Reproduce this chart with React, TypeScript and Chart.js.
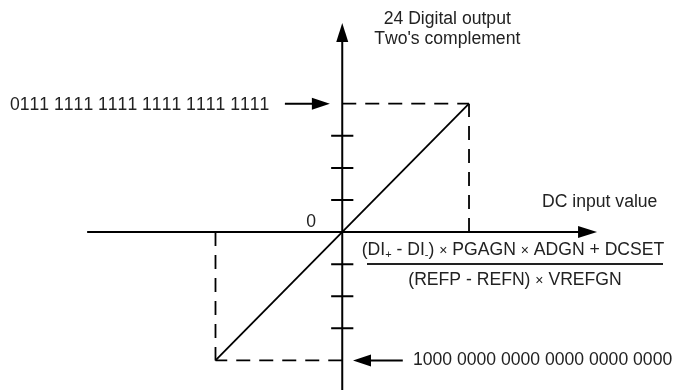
import React, { useEffect, useRef } from "react";
import { Chart, registerables } from "chart.js";

Chart.register(...registerables);

// Transfer function endpoints (input value units, output code units)
const inputValues = [-4, 4];
const outputCodes = [-4, 4];
// Tick marks along the output axis
const outputTicks = [-3, -2, -1, 1, 2, 3];
// Text labels
const topCode = "0111 1111 1111 1111 1111 1111";
const bottomCode = "1000 0000 0000 0000 0000 0000";
const yTitle = ["24 Digital output", "Two's complement"];
const xTitle = "DC input value";
const originLabel = "0";

const FONT = '"Liberation Sans", Arial, sans-serif';
const TEXT = "#222222";
const LINE = "#000000";

type Seg = [string, "n" | "s" | "x"];
const numeratorSegs: Seg[] = [
  ["(DI", "n"],
  ["+", "s"],
  [" - DI", "n"],
  ["-", "s"],
  [") ", "n"],
  ["\u00d7", "x"],
  [" PGAGN ", "n"],
  ["\u00d7", "x"],
  [" ADGN + DCSET", "n"],
];
const denominatorSegs: Seg[] = [
  ["(REFP - REFN) ", "n"],
  ["\u00d7", "x"],
  [" VREFGN", "n"],
];

const diagramPlugin = {
  id: "diagram",
  afterDatasetsDraw(chart: any) {
    const ctx = chart.ctx as CanvasRenderingContext2D;
    const xs = chart.scales.x;
    const ys = chart.scales.y;
    const px = (v: number) => xs.getPixelForValue(v);
    const py = (v: number) => ys.getPixelForValue(v);
    const ox = px(0);
    const oy = py(0);

    ctx.save();
    ctx.strokeStyle = LINE;
    ctx.fillStyle = LINE;
    ctx.lineCap = "butt";

    // axes
    ctx.lineWidth = 2;
    ctx.beginPath();
    ctx.moveTo(ox, ys.bottom + 2);
    ctx.lineTo(ox, py(6.0));
    ctx.moveTo(px(-8.05), oy);
    ctx.lineTo(px(7.5), oy);
    ctx.stroke();

    const head = (tx: number, ty: number, dx: number, dy: number, len: number, hw: number) => {
      const bx = tx - dx * len;
      const by = ty - dy * len;
      ctx.beginPath();
      ctx.moveTo(tx, ty);
      ctx.lineTo(bx - dy * hw, by + dx * hw);
      ctx.lineTo(bx + dy * hw, by - dx * hw);
      ctx.closePath();
      ctx.fill();
    };
    head(ox, py(6.51), 0, -1, 19, 6);
    head(px(8.04), oy, 1, 0, 19, 6);

    // ticks
    ctx.lineWidth = 2;
    ctx.beginPath();
    outputTicks.forEach((t) => {
      ctx.moveTo(px(-0.35), py(t));
      ctx.lineTo(px(0.35), py(t));
    });
    ctx.stroke();

    // pointer arrows to full-scale codes
    const topY = py(outputCodes[1]);
    const botY = py(outputCodes[0]);
    ctx.lineWidth = 2;
    ctx.beginPath();
    ctx.moveTo(px(-1.81), topY);
    ctx.lineTo(px(-0.39) - 15, topY);
    ctx.moveTo(px(1.91), botY);
    ctx.lineTo(px(0.34) + 15, botY);
    ctx.stroke();
    head(px(-0.39), topY, 1, 0, 18, 6);
    head(px(0.34), botY, -1, 0, 18, 6);

    // texts
    (ctx as any).fontKerning = "none";
    const fonts = {
      n: `17.6px ${FONT}`,
      s: `11px ${FONT}`,
      x: `14px ${FONT}`,
    };
    ctx.fillStyle = TEXT;
    ctx.font = fonts.n;
    ctx.textBaseline = "middle";
    ctx.textAlign = "center";
    ctx.fillText(yTitle[0], ox + 105, 19);
    ctx.fillText(yTitle[1], ox + 105, 39);
    ctx.textAlign = "left";
    ctx.fillText(topCode, 10, topY + 1);
    ctx.fillText(bottomCode, px(2.23), botY);
    ctx.fillText(xTitle, 542, oy - 30);
    ctx.textAlign = "center";
    ctx.fillText(originLabel, ox - 31, oy - 10);

    const drawSegs = (segs: Seg[], cx: number, y: number) => {
      let total = 0;
      segs.forEach(([s, k]) => {
        ctx.font = fonts[k];
        total += ctx.measureText(s).width;
      });
      let x = cx - total / 2;
      ctx.textAlign = "left";
      segs.forEach(([s, k]) => {
        ctx.font = fonts[k];
        ctx.fillText(s, x, k === "s" ? y + 4 : k === "x" ? y + 1 : y);
        x += ctx.measureText(s).width;
      });
    };

    drawSegs(numeratorSegs, 513, oy + 18.5);
    ctx.strokeStyle = TEXT;
    ctx.lineWidth = 2;
    ctx.beginPath();
    ctx.moveTo(367, oy + 32);
    ctx.lineTo(663, oy + 32);
    ctx.stroke();
    drawSegs(denominatorSegs, 515, oy + 48);

    ctx.restore();
  },
};

export default function App() {
  const ref = useRef<HTMLCanvasElement | null>(null);
  useEffect(() => {
    if (!ref.current) return;
    const dash = [14, 9];
    const dashed = (label: string, pts: { x: number; y: number }[]) => ({
      label,
      data: pts,
      showLine: true,
      borderColor: LINE,
      borderWidth: 1.8,
      borderDash: dash,
      pointRadius: 0,
    });
    const chart = new Chart(ref.current, {
      type: "scatter",
      data: {
        datasets: [
          {
            label: "transfer",
            data: inputValues.map((v, i) => ({ x: v, y: outputCodes[i] })),
            showLine: true,
            borderColor: LINE,
            borderWidth: 1.8,
            pointRadius: 0,
          },
          dashed("top-h", [
            { x: 0, y: outputCodes[1] },
            { x: inputValues[1], y: outputCodes[1] },
          ]),
          dashed("top-v", [
            { x: inputValues[1], y: 0 },
            { x: inputValues[1], y: outputCodes[1] },
          ]),
          dashed("bot-h", [
            { x: 0, y: outputCodes[0] },
            { x: inputValues[0], y: outputCodes[0] },
          ]),
          dashed("bot-v", [
            { x: inputValues[0], y: 0 },
            { x: inputValues[0], y: outputCodes[0] },
          ]),
        ],
      },
      options: {
        animation: false,
        responsive: false,
        devicePixelRatio: 1,
        layout: { padding: 0 },
        plugins: { legend: { display: false }, tooltip: { enabled: false } },
        scales: {
          x: { type: "linear", min: -10.8, max: 10.5, display: false },
          y: { type: "linear", min: -4.92, max: 7.23, display: false },
        },
      },
      plugins: [diagramPlugin],
    });
    return () => chart.destroy();
  }, []);
  return (
    <div style={{ position: "absolute", left: 0, top: 0, width: 675, height: 390, background: "#fff" }}>
      <canvas ref={ref} width={675} height={390} style={{ display: "block" }} />
    </div>
  );
}
